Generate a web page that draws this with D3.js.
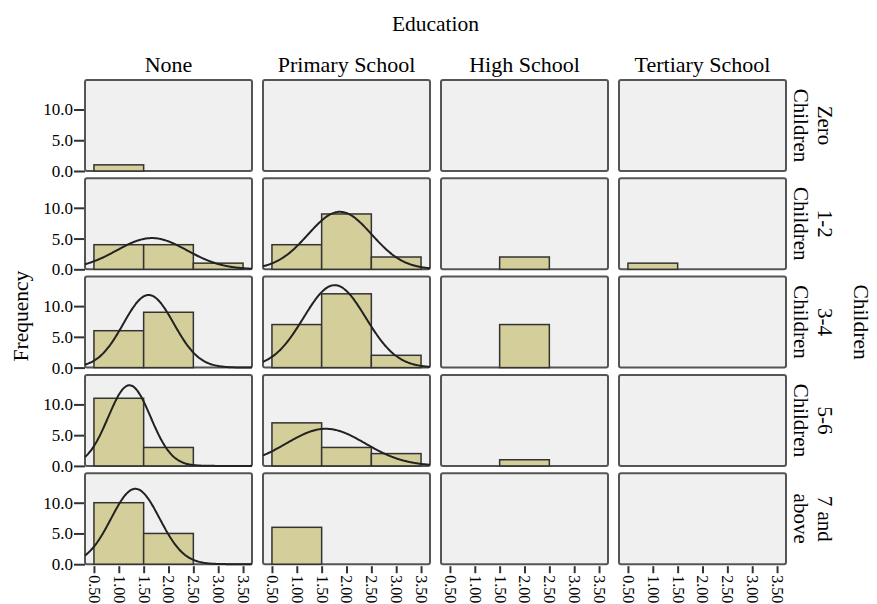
<!DOCTYPE html>
<html>
<head>
<meta charset="utf-8">
<script src="https://cdn.jsdelivr.net/npm/d3@7"></script>
<style>
  body { margin: 0; background: #fff; }
  text { font-family: "Liberation Serif", "Times New Roman", serif; fill: #000; }
</style>
</head>
<body>
<div id="chart"></div>
<script>
// Panel grid: rows = number of children, columns = education
const colLabels = ["None", "Primary School", "High School", "Tertiary School"];
const rowLabels = [["Zero", "Children"], ["1-2", "Children"], ["3-4", "Children"], ["5-6", "Children"], ["7 and", "above"]];
const binCenters = [1, 2, 3];
const xTicks = [0.5, 1.0, 1.5, 2.0, 2.5, 3.0, 3.5];
const yTicks = [0, 5, 10];

// frequencies per bin (1, 2, 3) for each education column
const zeroChildren = [[1, 0, 0], [0, 0, 0], [0, 0, 0], [0, 0, 0]];
const oneTwoChildren = [[4, 4, 1], [4, 9, 2], [0, 2, 0], [1, 0, 0]];
const threeFourChildren = [[6, 9, 0], [7, 12, 2], [0, 7, 0], [0, 0, 0]];
const fiveSixChildren = [[11, 3, 0], [7, 3, 2], [0, 1, 0], [0, 0, 0]];
const sevenAbove = [[10, 5, 0], [6, 0, 0], [0, 0, 0], [0, 0, 0]];
const counts = [zeroChildren, oneTwoChildren, threeFourChildren, fiveSixChildren, sevenAbove];

const width = 877, height = 604;
const marginLeft = 85, marginTop = 80;
const panelW = 167, panelH = 91;
const colStep = 178, rowStep = 98.3;

const x = d3.scaleLinear().domain([0.32, 3.68]).range([0, panelW]);
const y = d3.scaleLinear().domain([0, 14.8]).range([panelH, 0]);

const svg = d3.select("#chart").append("svg")
    .attr("width", width)
    .attr("height", height);

// titles
svg.append("text")
    .attr("x", marginLeft + (colStep * 3 + panelW) / 2)
    .attr("y", 23).attr("dy", "0.35em")
    .attr("text-anchor", "middle")
    .style("font-size", "21.5px")
    .text("Education");

colLabels.forEach((c, j) => {
    svg.append("text")
        .attr("x", marginLeft + j * colStep + panelW / 2)
        .attr("y", 64).attr("dy", "0.35em")
        .attr("text-anchor", "middle")
        .style("font-size", "22px")
        .text(c);
});

const midY = marginTop + (rowStep * 4 + panelH) / 2;
svg.append("text")
    .attr("transform", `translate(20,${midY - 6}) rotate(-90)`)
    .attr("dy", "0.35em")
    .attr("text-anchor", "middle")
    .style("font-size", "21.5px")
    .text("Frequency");

svg.append("text")
    .attr("transform", `translate(862,${midY}) rotate(90)`)
    .attr("dy", "0.35em")
    .attr("text-anchor", "middle")
    .style("font-size", "21.5px")
    .text("Children");

const line = d3.line().x(d => x(d[0])).y(d => y(d[1])).curve(d3.curveBasis);

counts.forEach((row, i) => {
    const py = marginTop + i * rowStep;

    // row label on the right
    const lab = svg.append("text")
        .attr("transform", `translate(813,${py + panelH / 2}) rotate(90)`)
        .attr("text-anchor", "middle")
        .style("font-size", "21px");
    lab.append("tspan").attr("x", 0).attr("y", -12).attr("dy", "0.35em").text(rowLabels[i][0]);
    lab.append("tspan").attr("x", 0).attr("y", 12).attr("dy", "0.35em").text(rowLabels[i][1]);

    // y axis on first column
    svg.append("g")
        .attr("transform", `translate(${marginLeft},${py})`)
        .call(d3.axisLeft(y).tickValues(yTicks).tickFormat(d3.format(".1f")).tickSize(11).tickPadding(1))
        .call(g => g.select(".domain").remove())
        .call(g => g.selectAll(".tick line").attr("stroke", "#333").attr("stroke-width", 2))
        .call(g => g.selectAll(".tick text").style("font-size", "17px")
            .style("font-family", "'Liberation Serif', serif"));

    row.forEach((vals, j) => {
        const g = svg.append("g").attr("transform", `translate(${marginLeft + j * colStep},${py})`);

        g.append("rect")
            .attr("width", panelW).attr("height", panelH)
            .attr("rx", 2)
            .attr("fill", "#f0f0f0")
            .attr("stroke", "#555")
            .attr("stroke-width", 2);

        g.selectAll("rect.bar")
            .data(binCenters.map((b, k) => ({ b, v: vals[k] })).filter(d => d.v > 0))
            .join("rect")
            .attr("class", "bar")
            .attr("x", d => x(d.b - 0.5))
            .attr("width", d => x(d.b + 0.5) - x(d.b - 0.5))
            .attr("y", d => y(d.v))
            .attr("height", d => y(0) - y(d.v))
            .attr("fill", "#d4cf9a")
            .attr("stroke", "#333")
            .attr("stroke-width", 1.5);

        // fitted normal curve, from the counts
        const n = d3.sum(vals);
        if (n > 1) {
            const mean = d3.sum(binCenters, (b, k) => b * vals[k]) / n;
            const ss = d3.sum(binCenters, (b, k) => vals[k] * (b - mean) ** 2);
            const sd = Math.sqrt(ss / (n - 1));
            if (sd > 0) {
                const pts = d3.range(x.domain()[0], x.domain()[1] + 0.001, 0.02).map(t =>
                    [t, n * Math.exp(-0.5 * ((t - mean) / sd) ** 2) / (sd * Math.sqrt(2 * Math.PI))]);
                g.append("path")
                    .attr("d", line(pts))
                    .attr("fill", "none")
                    .attr("stroke", "#222")
                    .attr("stroke-width", 2);
            }
        }
    });
});

// x axes under last row
const bottom = marginTop + 4 * rowStep + panelH;
colLabels.forEach((c, j) => {
    svg.append("g")
        .attr("transform", `translate(${marginLeft + j * colStep},${bottom + 2})`)
        .call(d3.axisBottom(x).tickValues(xTicks).tickFormat(d3.format(".2f")).tickSize(7).tickPadding(3))
        .call(g => g.select(".domain").remove())
        .call(g => g.selectAll(".tick line").attr("stroke", "#333").attr("stroke-width", 2))
        .call(g => g.selectAll(".tick text")
            .style("font-size", "16px")
            .style("font-family", "'Liberation Serif', serif")
            .attr("text-anchor", "start")
            .attr("transform", "rotate(90)")
            .attr("x", 9).attr("y", 0).attr("dy", "0.35em"));
});
</script>
</body>
</html>
